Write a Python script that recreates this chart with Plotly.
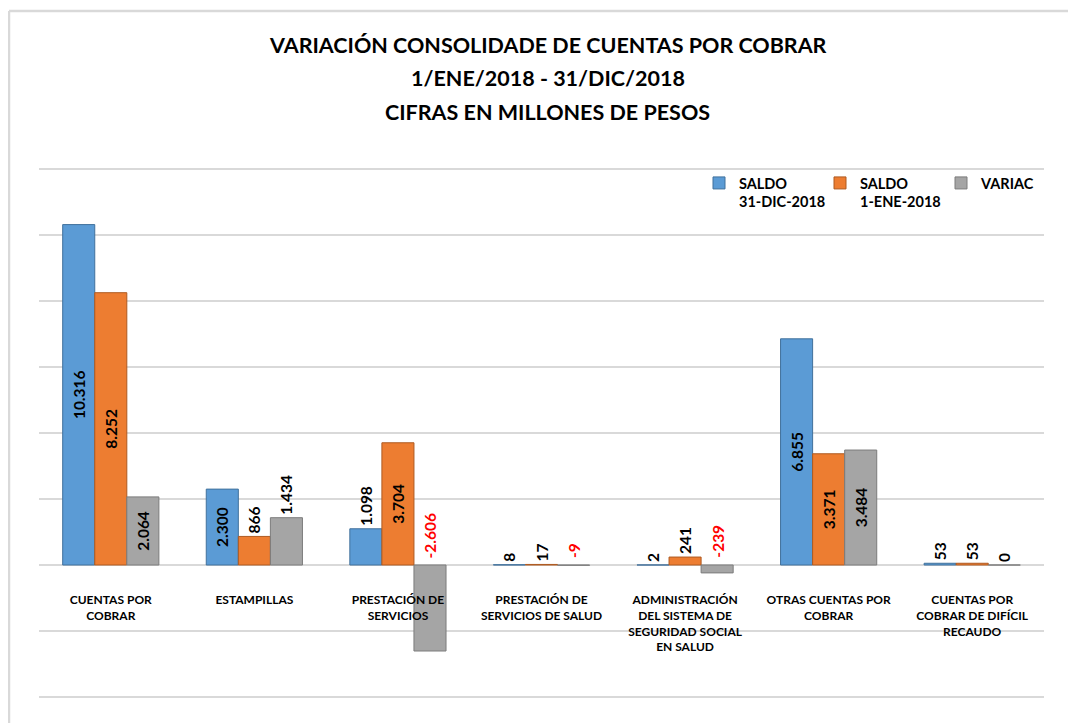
import plotly.graph_objects as go

categories = [
    "CUENTAS POR<br>COBRAR",
    "ESTAMPILLAS",
    "PRESTACIÓN DE<br>SERVICIOS",
    "PRESTACIÓN DE<br>SERVICIOS DE SALUD",
    "ADMINISTRACIÓN<br>DEL SISTEMA DE<br>SEGURIDAD SOCIAL<br>EN SALUD",
    "OTRAS CUENTAS POR<br>COBRAR",
    "CUENTAS POR<br>COBRAR DE DIFÍCIL<br>RECAUDO",
]
saldo_dic = [10316, 2300, 1098, 8, 2, 6855, 53]
saldo_ene = [8252, 866, 3704, 17, 241, 3371, 53]
variac = [2064, 1434, -2606, -9, -239, 3484, 0]

series_names = ["SALDO<br>31-DIC-2018", "SALDO<br>1-ENE-2018", "VARIAC"]
series_values = [saldo_dic, saldo_ene, variac]
colors = ["#5B9BD5", "#ED7D31", "#A5A5A5"]
side_colors = ["#41719C", "#AE5A21", "#7C7C7C"]

title_lines = [
    "VARIACIÓN CONSOLIDADE DE CUENTAS POR COBRAR",
    "1/ENE/2018 - 31/DIC/2018",
    "CIFRAS EN MILLONES DE PESOS",
]

W, H = 1076, 723
ML, MR, MT, MB = 31, 40, 152, 26
Y_MIN, Y_MAX = -4242, 12273
BARGAP = 0.33
plot_w = W - ML - MR
plot_h = H - MT - MB


def py(pix):
    """figure pixel row -> paper y"""
    return (H - MB - pix) / plot_h


def px(pix):
    """figure pixel column -> paper x"""
    return (pix - ML) / plot_w


def fmt(v):
    return f"{v:,}".replace(",", ".")


FONT = "Lato"
fig = go.Figure()

for name, vals, col, side in zip(series_names, series_values, colors, side_colors):
    positions = []
    for v in vals:
        if v < 0:
            positions.append("none")
        elif v >= 2000:
            positions.append("inside")
        else:
            positions.append("outside")
    fig.add_trace(go.Bar(
        name=name,
        x=categories,
        y=vals,
        marker=dict(color=col, line=dict(color=side, width=1)),
        text=[fmt(v) for v in vals],
        textposition=positions,
        textangle=-90,
        insidetextanchor="middle",
        constraintext="none",
        textfont=dict(family=FONT, size=15.5, color="black", weight="bold"),
        cliponaxis=False,
        hoverinfo="x+y",
    ))

# negative variation labels: red, sitting just above the zero line
bar_w = plot_w / len(categories) * (1 - BARGAP) / 3
for cat, v in zip(categories, variac):
    if v < 0:
        fig.add_annotation(
            x=cat, y=0, xref="x", yref="y",
            xshift=bar_w, yshift=5,
            text=fmt(v),
            textangle=-90, showarrow=False,
            xanchor="center", yanchor="bottom",
            font=dict(family=FONT, size=15.5, color="#FF0000", weight="bold"),
        )

# title, one annotation per line
for txt, row in zip(title_lines, [37, 70, 104]):
    fig.add_annotation(
        x=0.5, xref="paper", y=py(row), yref="paper", xshift=6,
        text=f"<b>{txt}</b>", showarrow=False,
        xanchor="center", yanchor="middle",
        font=dict(family=FONT, size=21.5, color="black"),
    )

zero_pos = (0 - Y_MIN) / (Y_MAX - Y_MIN)

fig.update_layout(
    width=W, height=H,
    margin=dict(l=ML, r=MR, t=MT, b=MB, autoexpand=False),
    paper_bgcolor="white", plot_bgcolor="white",
    barmode="group", bargap=BARGAP, bargroupgap=0,
    separators=",.",
    legend=dict(
        orientation="h", x=px(691), xanchor="left", y=py(159), yanchor="top",
        valign="top", font=dict(family=FONT, size=14.5, color="black", weight="bold"),
        bgcolor="rgba(0,0,0,0)", traceorder="normal", entrywidth=76,
    ),
    xaxis=dict(
        anchor="free", position=zero_pos,
        showgrid=False, showline=False, zeroline=False,
        ticks="outside", ticklen=24, tickcolor="rgba(0,0,0,0)",
        tickfont=dict(family=FONT, size=12, color="black", weight="bold"),
        tickangle=0,
    ),
    yaxis=dict(
        range=[Y_MIN, Y_MAX], dtick=2000, tick0=0,
        showticklabels=False, showgrid=True, gridcolor="#D9D9D9", gridwidth=1.5,
        zeroline=True, zerolinecolor="#D9D9D9", zerolinewidth=1.5,
        showline=False, fixedrange=True,
    ),
    showlegend=True,
)

# outer chart border (top and left edges visible in the reference)
fig.add_shape(type="line", xref="paper", yref="paper",
              x0=px(1), x1=px(W + 10), y0=py(3), y1=py(3),
              line=dict(color="#D9D9D9", width=2.5))
fig.add_shape(type="line", xref="paper", yref="paper",
              x0=px(1), x1=px(1), y0=py(3), y1=py(H + 10),
              line=dict(color="#D9D9D9", width=2.5))

fig.write_html("out.html")
